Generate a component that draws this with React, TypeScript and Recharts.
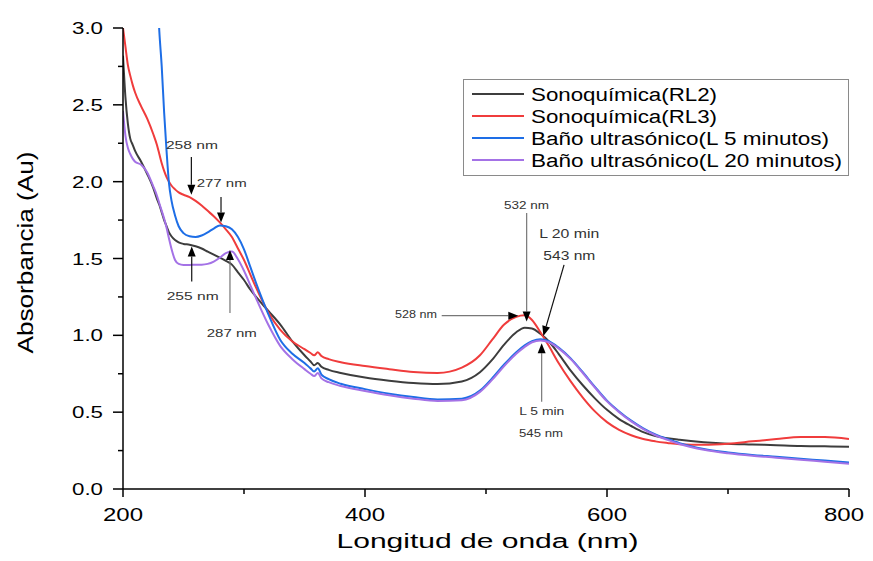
import React from 'react';
import { LineChart, Line, XAxis, YAxis, Legend, ReferenceLine, ReferenceDot, Label } from 'recharts';

const wavelengths = [
    200, 202, 204, 206, 208, 210, 215, 220, 225, 228,
    230, 232, 234, 236, 238, 240, 243, 246, 250, 255,
    260, 265, 270, 275, 280, 285, 290, 295, 300, 305,
    310, 320, 330, 340, 350, 355, 358, 361, 364, 370,
    380, 400, 420, 440, 460, 480, 495, 505, 515, 525,
    532, 538, 545, 552, 560, 570, 580, 590, 600, 610,
    620, 630, 640, 650, 660, 680, 700, 720, 740, 760,
    780, 800,
];

// Sonoquímica(RL2)
const rl2 = [
    2.82, 2.55, 2.38, 2.28, 2.24, 2.2, 2.13, 2.05, 1.96, 1.89,
    1.85, 1.8, 1.75, 1.71, 1.67, 1.645, 1.62, 1.605, 1.595, 1.59,
    1.58, 1.565, 1.545, 1.525, 1.505, 1.485, 1.46, 1.41, 1.36, 1.3,
    1.25, 1.16, 1.07, 0.96, 0.87, 0.83, 0.805, 0.82, 0.795, 0.775,
    0.755, 0.725, 0.705, 0.69, 0.683, 0.7, 0.76, 0.84, 0.94, 1.02,
    1.05, 1.045, 1.01, 0.96, 0.88, 0.77, 0.675, 0.59, 0.515, 0.455,
    0.41, 0.37, 0.345, 0.33, 0.32, 0.305, 0.295, 0.29, 0.285, 0.28,
    0.278, 0.275,
];

// Sonoquímica(RL3)
const rl3 = [
    3.0, 2.88, 2.76, 2.69, 2.63, 2.58, 2.49, 2.41, 2.31, 2.24,
    2.18, 2.12, 2.07, 2.03, 2.0, 1.975, 1.95, 1.93, 1.915, 1.9,
    1.875, 1.845, 1.81, 1.775, 1.735, 1.69, 1.64, 1.565, 1.49, 1.4,
    1.31, 1.15, 1.035, 0.96, 0.91, 0.885, 0.87, 0.89, 0.865, 0.845,
    0.825, 0.8, 0.78, 0.762, 0.755, 0.79, 0.87, 0.97, 1.07, 1.12,
    1.13, 1.1, 1.02, 0.93, 0.82, 0.7, 0.595, 0.505, 0.435, 0.385,
    0.35, 0.325, 0.31, 0.3, 0.292, 0.288, 0.295, 0.31, 0.325, 0.338,
    0.338, 0.325,
];

// Baño ultrasónico(L 5 minutos)
const ultra5 = [
    null, null, null, null, null, null, null, null, null, 3.3,
    2.98, 2.75, 2.45, 2.2, 1.99, 1.88, 1.78, 1.71, 1.665, 1.645,
    1.64, 1.65, 1.67, 1.695, 1.715, 1.71, 1.69, 1.64, 1.56, 1.45,
    1.34, 1.14, 0.97, 0.88, 0.82, 0.785, 0.765, 0.785, 0.745, 0.715,
    0.685, 0.65, 0.62, 0.598, 0.583, 0.588, 0.64, 0.72, 0.81, 0.89,
    0.935, 0.962, 0.975, 0.962, 0.92, 0.85, 0.76, 0.665, 0.575, 0.505,
    0.445, 0.395, 0.355, 0.325, 0.298, 0.26, 0.238, 0.222, 0.21, 0.197,
    0.185, 0.172,
];

// Baño ultrasónico(L 20 minutos)
const ultra20 = [
    2.46, 2.3, 2.22, 2.18, 2.15, 2.13, 2.11, 2.06, 1.97, 1.91,
    1.86, 1.81, 1.76, 1.7, 1.63, 1.565, 1.49, 1.465, 1.458, 1.458,
    1.46, 1.46, 1.465, 1.48, 1.505, 1.535, 1.545, 1.495, 1.42, 1.33,
    1.24, 1.07, 0.93, 0.845, 0.78, 0.75, 0.735, 0.755, 0.72, 0.695,
    0.67, 0.638, 0.61, 0.588, 0.573, 0.578, 0.632, 0.71, 0.8, 0.88,
    0.925, 0.955, 0.967, 0.955, 0.915, 0.845, 0.755, 0.66, 0.57, 0.5,
    0.44, 0.39, 0.35, 0.32, 0.293, 0.255, 0.232, 0.216, 0.204, 0.19,
    0.178, 0.165,
];

const xTicks = [200, 300, 400, 500, 600, 700, 800];
const yTicks = [0, 0.25, 0.5, 0.75, 1, 1.25, 1.5, 1.75, 2, 2.25, 2.5, 2.75, 3];

const seriesKeys = ['rl2', 'rl3', 'ultra5', 'ultra20'];
const seriesNames = [
    'Sonoquímica(RL2)',
    'Sonoquímica(RL3)',
    'Baño ultrasónico(L 5 minutos)',
    'Baño ultrasónico(L 20 minutos)',
];
const seriesColors = ['#3d3d3d', '#f03c3c', '#1e6ee6', '#a472e6'];
const legendTextWidths = [186, 186, 298, 311];

// arrows: from (x1,y1) to tip (x2,y2), in data units
const arrows = [
    { x1: 256.5, y1: 2.16, x2: 256.5, y2: 1.915, color: '#111' },
    { x1: 281, y1: 1.9, x2: 281, y2: 1.735, color: '#111' },
    { x1: 256.8, y1: 1.35, x2: 256.8, y2: 1.578, color: '#111' },
    { x1: 288.4, y1: 1.145, x2: 288.4, y2: 1.555, color: '#777' },
    { x1: 463.4, y1: 1.128, x2: 526.7, y2: 1.128, color: '#777' },
    { x1: 533.6, y1: 1.796, x2: 533.6, y2: 1.09, color: '#777' },
    { x1: 564.5, y1: 1.458, x2: 547.4, y2: 0.996, color: '#111' },
    { x1: 546, y1: 0.568, x2: 546, y2: 0.948, color: '#777' },
];

const notes = [
    { x: 235.5, y: 2.21, text: '258 nm', size: 11.5, len: 52 },
    { x: 260.9, y: 1.967, text: '277 nm', size: 11.5, len: 50 },
    { x: 236.1, y: 1.23, text: '255 nm', size: 11.5, len: 52 },
    { x: 269.2, y: 0.991, text: '287 nm', size: 11.5, len: 50 },
    { x: 424.8, y: 1.113, text: '528 nm', size: 10, len: 42 },
    { x: 514.9, y: 1.82, text: '532 nm', size: 10, len: 45 },
    { x: 544, y: 1.631, text: 'L 20 min', size: 12.5, len: 60 },
    { x: 547.4, y: 1.49, text: '543 nm', size: 12.5, len: 52 },
    { x: 527.5, y: 0.482, text: 'L 5 min', size: 11, len: 45 },
    { x: 527.3, y: 0.34, text: '545 nm', size: 11, len: 44 },
];

const rows = wavelengths.map((wl, i) => ({
    wl,
    rl2: rl2[i],
    rl3: rl3[i],
    ultra5: ultra5[i],
    ultra20: ultra20[i],
}));

const FONT = '"Liberation Sans", Arial, sans-serif';
const W = 857;
const H = 545;

const YTick = (props: any) => {
    const { x, y, payload } = props;
    const v = payload.value;
    const major = Math.abs(v * 2 - Math.round(v * 2)) < 1e-6;
    return (
        <g>
            <line x1={x} x2={x - (major ? 10 : 5)} y1={y} y2={y} stroke="#000" strokeWidth={1.5} />
            {major && (
                <text x={x - 51} y={y + 6} fontSize={16} fontFamily={FONT} fill="#000"
                    textLength={31} lengthAdjust="spacingAndGlyphs">
                    {v.toFixed(1)}
                </text>
            )}
        </g>
    );
};

const XTick = (props: any) => {
    const { x, y, payload } = props;
    const major = payload.value % 200 === 0;
    // keep the last label inside the drawing
    const tx = Math.min(x - 20, W - 41);
    return (
        <g>
            <line x1={x} x2={x} y1={y} y2={y + (major ? 8 : 5)} stroke="#000" strokeWidth={1.5} />
            {major && (
                <text x={tx} y={y + 32} fontSize={19} fontFamily={FONT} fill="#000"
                    textLength={40} lengthAdjust="spacingAndGlyphs">
                    {payload.value}
                </text>
            )}
        </g>
    );
};

const ArrowShape = (props: any) => {
    const { x1, y1, x2, y2, color } = props;
    const dx = x2 - x1;
    const dy = y2 - y1;
    const len = Math.sqrt(dx * dx + dy * dy) || 1;
    const ux = dx / len;
    const uy = dy / len;
    const hl = 10;
    const hw = 4;
    const bx = x2 - ux * hl;
    const by = y2 - uy * hl;
    return (
        <g>
            <line x1={x1} y1={y1} x2={bx} y2={by} stroke={color} strokeWidth={1.2} />
            <polygon
                points={`${x2},${y2} ${bx - uy * hw},${by + ux * hw} ${bx + uy * hw},${by - ux * hw}`}
                fill="#000"
            />
        </g>
    );
};

const LegendBox = () => (
    <svg width={386} height={97}>
        <rect x={0.5} y={0.5} width={385} height={96} fill="#fff" stroke="#8a8a8a" strokeWidth={1} />
        {seriesNames.map((name, i) => {
            const cy = 15 + i * 22;
            return (
                <g key={name}>
                    <line x1={9} x2={61} y1={cy} y2={cy} stroke={seriesColors[i]} strokeWidth={2} />
                    <text x={68} y={cy + 6.5} fontSize={18} fontFamily={FONT} fill="#000"
                        textLength={legendTextWidths[i]} lengthAdjust="spacingAndGlyphs">
                        {name}
                    </text>
                </g>
            );
        })}
    </svg>
);

const YTitle = () => (
    <text x={25.3 - 101} y={244.5} transform="rotate(-90 25.3 244.5)" fontSize={22} fontFamily={FONT}
        fill="#000" textLength={202} lengthAdjust="spacingAndGlyphs">
        Absorbancia (Au)
    </text>
);

const XTitle = () => (
    <text x={479.5 - 151} y={540} fontSize={20} fontFamily={FONT} fill="#000"
        textLength={302} lengthAdjust="spacingAndGlyphs">
        Longitud de onda (nm)
    </text>
);

export default function App() {
    return (
        <LineChart
            width={W}
            height={H}
            data={rows}
            margin={{ top: 20, right: 16, bottom: 0, left: 0 }}
            style={{ fontFamily: FONT }}
        >
            <XAxis
                dataKey="wl"
                type="number"
                domain={[200, 800]}
                ticks={xTicks}
                interval={0}
                allowDataOverflow
                height={64}
                tickSize={0}
                tickMargin={0}
                tickLine={false}
                tick={<XTick />}
                axisLine={{ stroke: '#000', strokeWidth: 1.5 }}
            >
                <Label content={<XTitle />} />
            </XAxis>
            <YAxis
                type="number"
                domain={[0, 3]}
                ticks={yTicks}
                interval={0}
                allowDataOverflow
                width={115}
                tickSize={0}
                tickMargin={0}
                tickLine={false}
                tick={<YTick />}
                axisLine={{ stroke: '#000', strokeWidth: 1.5 }}
            >
                <Label content={<YTitle />} />
            </YAxis>
            <Legend
                layout="vertical"
                align="center"
                verticalAlign="middle"
                wrapperStyle={{ position: 'absolute', left: 455, top: 71, width: 386, height: 97 }}
                content={() => <LegendBox />}
            />
            {seriesKeys.map((k, i) => (
                <Line
                    key={k}
                    dataKey={k}
                    name={seriesNames[i]}
                    type="monotone"
                    stroke={seriesColors[i]}
                    strokeWidth={2}
                    dot={false}
                    activeDot={false}
                    isAnimationActive={false}
                />
            ))}
            {arrows.map((a, i) => (
                <ReferenceLine
                    key={`arrow-${i}`}
                    segment={[{ x: a.x1, y: a.y1 }, { x: a.x2, y: a.y2 }]}
                    shape={(p: any) => <ArrowShape {...p} color={a.color} />}
                />
            ))}
            {notes.map((n, i) => (
                <ReferenceDot
                    key={`note-${i}`}
                    x={n.x}
                    y={n.y}
                    r={0}
                    shape={(p: any) => (
                        <text x={p.cx} y={p.cy} fontSize={n.size} fontFamily={FONT} fill="#333"
                            textLength={n.len} lengthAdjust="spacingAndGlyphs">
                            {n.text}
                        </text>
                    )}
                />
            ))}
        </LineChart>
    );
}
